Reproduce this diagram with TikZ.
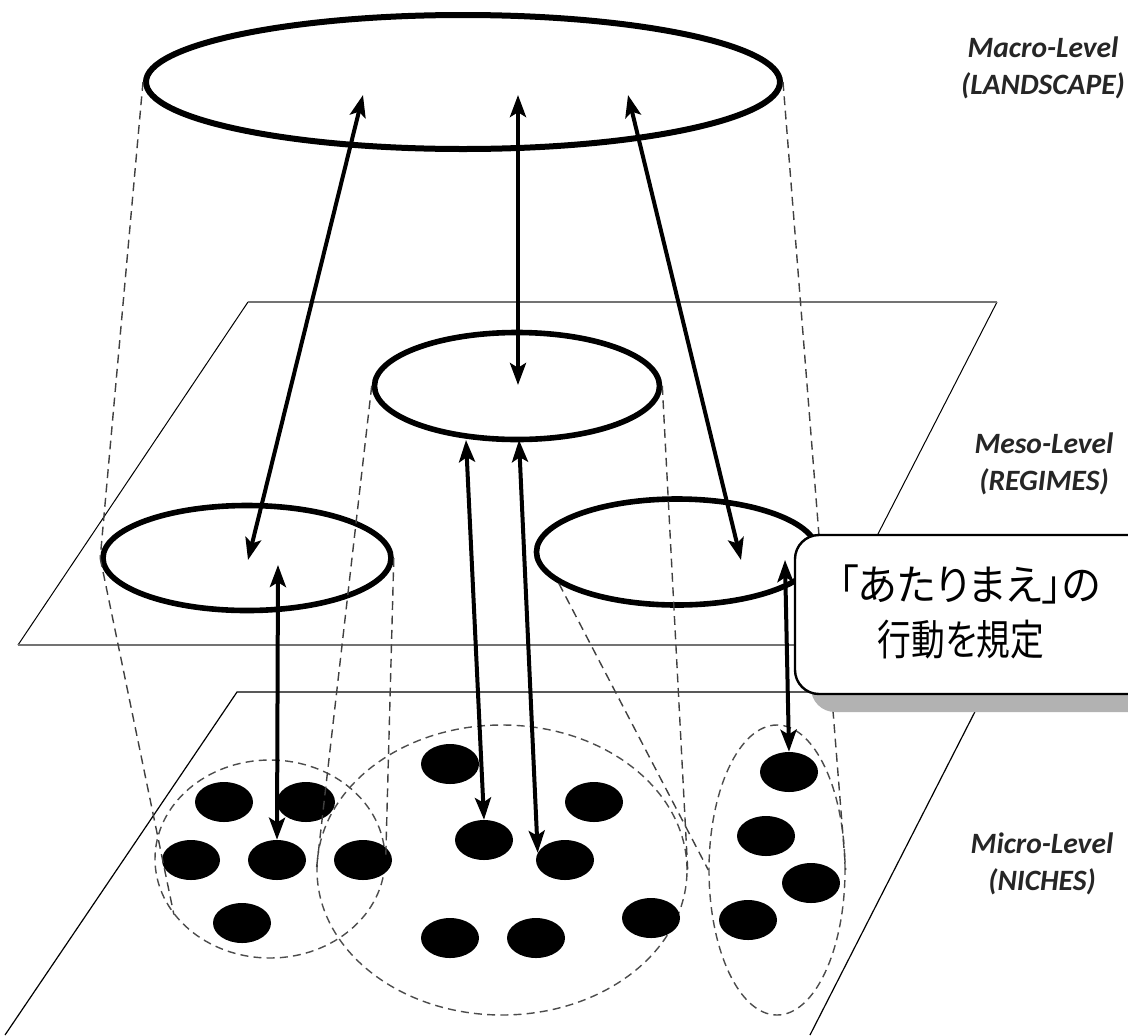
\documentclass[tikz,border=0pt]{standalone}
\usepackage{fontspec}
\usepackage{graphicx}
\usetikzlibrary{shapes.geometric,arrows.meta,shadows}
\newfontfamily\jpfont[RawFeature=+palt]{Noto Sans CJK JP}
\newfontfamily\lvlfont{Carlito}

\begin{document}
\begin{tikzpicture}[x=0.25mm, y=-0.25mm,
    nivel/.style={draw, ellipse, line width=1.4mm, inner sep=0pt},
    grupo/.style={draw=black!70, ellipse, line width=0.35mm, dash pattern=on 2mm off 1.3mm, inner sep=0pt},
    ponto/.style={fill=black, ellipse, minimum width=14.5mm, minimum height=10mm, inner sep=0pt},
    proj/.style={draw=black!75, line width=0.35mm, dash pattern=on 2.2mm off 1.4mm},
    seta/.style={line width=1mm, {Stealth[length=5.5mm,width=4mm,inset=1.2mm]}-{Stealth[length=5.5mm,width=4mm,inset=1.2mm]}},
    rotulo/.style={font=\lvlfont\bfseries\itshape\fontsize{21}{26}\selectfont, align=center, text=black!85},
    nota/.style={font=\jpfont\fontsize{30}{41}\selectfont, inner sep=0pt}
]
    \useasboundingbox (0,0) rectangle (1128,1035);
    \clip (0,0) rectangle (1128,1035);
    \fill[white] (0,0) rectangle (1128,1035);

    % Planos
    \draw[line width=0.25mm] (248,302) -- (18,645);
    \draw[line width=0.25mm] (997,302) -- (821,645);
    \draw[black!55, line width=0.55mm] (248,302) -- (997,302);
    \draw[black!55, line width=0.55mm] (18,645) -- (821,645);
    \draw[line width=0.3mm] (5,1035) -- (237,692) -- (985,692) -- (810,1035);

    % Níveis
    \node[nivel, line width=1.5mm, minimum width=158.5mm, minimum height=33.5mm] (macro) at (463,82) {};
    \node[nivel, minimum width=71.25mm, minimum height=26.75mm] (mesoC) at (517,386) {};
    \node[nivel, minimum width=72mm, minimum height=26.25mm] (mesoL) at (247,558) {};
    \node[nivel, minimum width=70.25mm, minimum height=26.5mm] (mesoR) at (677,552) {};

    % Nichos
    \node[grupo, minimum width=57.5mm, minimum height=49.5mm] (grpL) at (270,859) {};
    \node[grupo, minimum width=92.5mm, minimum height=72.5mm] (grpC) at (502,870) {};
    \node[grupo, minimum width=34mm, minimum height=72.5mm] (grpR) at (777,870) {};
    \foreach \n/\x/\y in {1/224/802, 2/306/802, 3/191/860, 4/277/860, 5/363/860, 6/242/923,
        7/450/764, 8/594/802, 9/484/840, 10/565/860, 11/651/918, 12/450/938, 13/536/938,
        14/789/772, 15/766/836, 16/811/883, 17/748/920}
        \node[ponto] (d\n) at (\x,\y) {};

    % Projeções
    \draw[proj] (macro.west) -- (mesoL.west);
    \draw[proj] (macro.east) -- (mesoR.east);
    \draw[proj] (mesoL.west) -- (grpL.210);
    \draw[proj] (mesoL.east) -- (grpL.east);
    \draw[proj] (mesoC.west) -- (grpC.west);
    \draw[proj] (mesoC.east) -- (grpC.east);
    \draw[proj] (mesoR.195) -- (grpR.west);
    \draw[proj] (mesoR.east) -- (grpR.east);

    % Setas
    \coordinate (mcL) at (363,95);
    \coordinate (mcC) at (518,95);
    \coordinate (mcR) at (628,95);
    \coordinate (msL) at (248,560);
    \coordinate (msL2) at (278,565);
    \coordinate (msC) at (518,385);
    \coordinate (msC1) at (466,440);
    \coordinate (msC2) at (519,440);
    \coordinate (msR) at (741,560);
    \coordinate (msR2) at (785,560);
    \draw[seta] (mcL) -- (msL);
    \draw[seta] (mcC) -- (msC);
    \draw[seta] (mcR) -- (msR);
    \draw[seta] (msL2) -- (d4.north);
    \draw[seta] (msC1) -- (d9.north);
    \draw[seta] (msC2) -- (d10.165);
    \draw[seta] (msR2) -- (d14.north);

    % Nota
    \node[draw, line width=0.6mm, rounded corners=6mm, fill=white, minimum width=102.5mm, minimum height=39.75mm,
        drop shadow={shadow xshift=4mm, shadow yshift=-4.5mm, fill=black!30, opacity=1}] (nota) at (1000,614.5) {};
    \node[nota, anchor=west] (nota1) at (838,584) {\scalebox{0.95}[1]{「あたりまえ」の}};
    \node[nota] (nota2) at (961,640) {\scalebox{0.8}[1]{行動を規定}};

    % Rótulos
    \node[rotulo] (macroTxt) at (1043,68) {Macro-Level\\(LANDSCAPE)};
    \node[rotulo] (mesoTxt) at (1044,464) {Meso-Level\\(REGIMES)};
    \node[rotulo] (microTxt) at (1042,864) {Micro-Level\\(NICHES)};
\end{tikzpicture}
\end{document}
